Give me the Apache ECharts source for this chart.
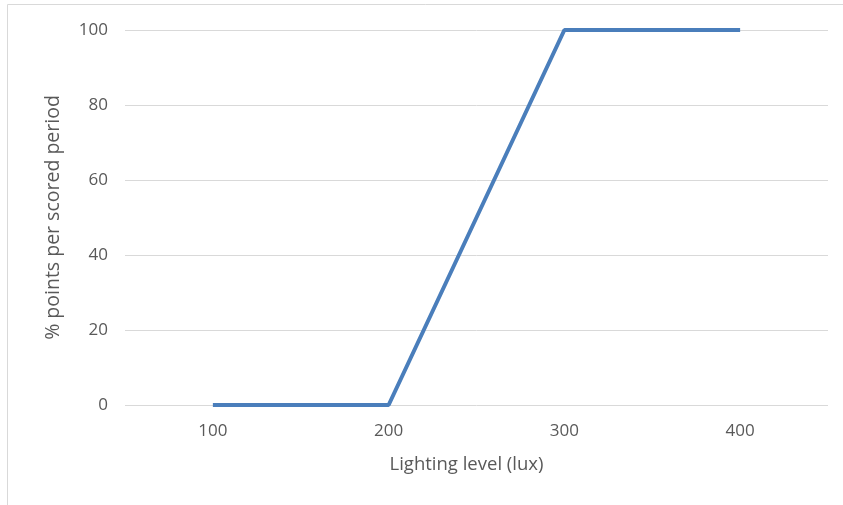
<!DOCTYPE html>
<html><head><meta charset="utf-8">
<script src="https://cdn.jsdelivr.net/npm/echarts@6/dist/echarts.min.js"></script>
<style>html,body{margin:0;padding:0;background:#fff}#c{width:843px;height:505px}</style>
</head><body><div id="c"></div>
<script>
var categories = ['100', '200', '300', '400'];
var values = [0, 0, 100, 100];
var chart = echarts.init(document.getElementById('c'));
var font = '"Open Sans", "Noto Sans", sans-serif';
chart.setOption({
  animation: false,
  graphic: [{type:'rect', shape:{x:7.5,y:4.5,width:900,height:600}, style:{fill:'none', stroke:'#d9d9d9', lineWidth:1}}],
  grid: {left:125, right:15, top:30, bottom:100},
  xAxis: {
    type:'category', data:categories, boundaryGap:true,
    name:'Lighting level (lux)', nameLocation:'middle', nameGap:50,
    nameTextStyle:{color:'#595959', fontSize:18.5, fontFamily:font, padding:[0,20,0,0]},
    axisLine:{show:false}, axisTick:{show:false},
    axisLabel:{color:'#595959', fontSize:17, fontFamily:font, margin:18}
  },
  yAxis: {
    type:'value', min:0, max:100, interval:20,
    name:'% points per scored period', nameLocation:'middle', nameGap:62,
    nameTextStyle:{color:'#595959', fontSize:19.5, fontFamily:font},
    axisLine:{show:false}, axisTick:{show:false},
    axisLabel:{color:'#595959', fontSize:17, fontFamily:font, margin:17},
    splitLine:{lineStyle:{color:'#d9d9d9', width:1}}
  },
  series: [{type:'line', data:values, symbol:'none', lineStyle:{color:'#4a7ebb', width:4}}]
});
</script></body></html>
